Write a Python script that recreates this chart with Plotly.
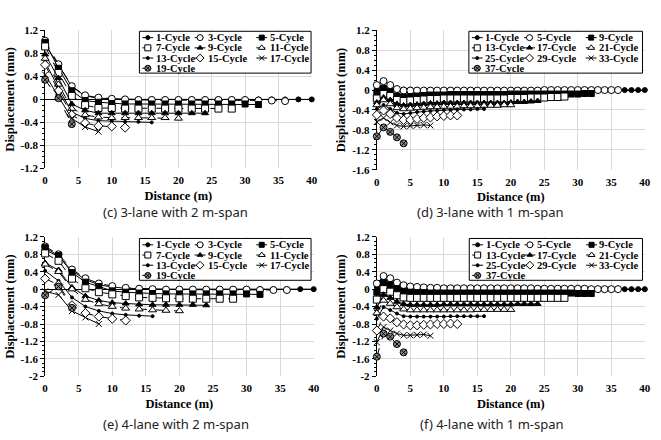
import plotly.graph_objects as go

# ---------------- data ----------------
distance_2m = [0, 2, 4, 6, 8, 10, 12, 14, 16, 18, 20, 22, 24, 26, 28, 30, 32, 34, 36, 38, 40]
distance_1m = [0, 1, 2, 3, 4, 5, 6, 7, 8, 9, 10, 11, 12, 13, 14, 15, 16, 17, 18, 19, 20,
               21, 22, 23, 24, 25, 26, 27, 28, 29, 30, 31, 32, 33, 34, 35, 36, 37, 38, 39, 40]
distance_ticks = [0, 5, 10, 15, 20, 25, 30, 35, 40]

cycles_2m = ["1-Cycle", "3-Cycle", "5-Cycle", "7-Cycle", "9-Cycle",
             "11-Cycle", "13-Cycle", "15-Cycle", "17-Cycle", "19-Cycle"]
cycles_1m = ["1-Cycle", "5-Cycle", "9-Cycle", "13-Cycle", "17-Cycle",
             "21-Cycle", "25-Cycle", "29-Cycle", "33-Cycle", "37-Cycle"]

yticks_12 = [-1.2, -0.8, -0.4, 0, 0.4, 0.8, 1.2]
ylabels_12 = ["-1.2", "-0.8", "-0.4", "0", "0.4", "0.8", "1.2"]
yticks_16 = [-1.6, -1.2, -0.8, -0.4, 0, 0.4, 0.8, 1.2]
ylabels_16 = ["-1.6", "-1.2", "-0.8", "-0.4", "0", "0.4", "0.8", "1.2"]
yticks_20 = [-2, -1.6, -1.2, -0.8, -0.4, 0, 0.4, 0.8, 1.2]
ylabels_20 = ["-2", "-1.6", "-1.2", "-0.8", "-0.4", "0", "0.4", "0.8", "1.2"]

# (c) 3-lane with 2 m-span
c_1 = [0.95, 0.60, 0.22, 0.06, 0.02, 0.01, 0.00, 0.00, 0.00, 0.00, 0.00, 0.00, 0.00, 0.00,
       0.00, 0.00, 0.00, 0.00, 0.00, 0.00, 0.00]
c_3 = [1.02, 0.61, 0.23, 0.07, 0.03, 0.01, 0.00, -0.01, -0.01, -0.01, -0.01, -0.01, -0.01,
       -0.01, -0.01, -0.01, -0.02, -0.02, -0.03]
c_5 = [0.99, 0.54, 0.15, -0.02, -0.05, -0.07, -0.08, -0.08, -0.08, -0.08, -0.08, -0.08,
       -0.08, -0.08, -0.08, -0.08, -0.09]
c_7 = [0.92, 0.46, 0.06, -0.10, -0.15, -0.15, -0.16, -0.16, -0.16, -0.16, -0.16, -0.16,
       -0.16, -0.16, -0.16]
c_9 = [0.78, 0.37, -0.08, -0.19, -0.24, -0.24, -0.24, -0.24, -0.24, -0.24, -0.24, -0.24, -0.24]
c_11 = [0.71, 0.26, -0.16, -0.27, -0.31, -0.32, -0.32, -0.32, -0.32, -0.32, -0.33]
c_13 = [0.65, 0.20, -0.22, -0.33, -0.37, -0.38, -0.39, -0.39, -0.40]
c_15 = [0.60, 0.15, -0.27, -0.41, -0.46, -0.47, -0.49]
c_17 = [0.43, 0.05, -0.33, -0.48, -0.56]
c_19 = [0.34, 0.02, -0.43]

# (d) 3-lane with 1 m-span
d_1 = [0.04, 0.05, 0.03, 0.02, 0.01, 0.01, 0.00, 0.00, 0.00, 0.00,
       0.00, 0.00, 0.00, 0.00, 0.00, 0.00, 0.00, 0.00, 0.00, 0.00,
       0.00, 0.00, 0.00, 0.00, 0.00, 0.00, 0.00, 0.00, 0.00, 0.00,
       0.00, 0.00, 0.00, 0.00, 0.00, 0.00, 0.00, 0.00, 0.00, 0.00, 0.00]
d_5 = [0.10, 0.18, 0.10, 0.02, -0.01, -0.01, -0.01, -0.01, -0.01, -0.01,
       -0.01, -0.01, -0.01, -0.01, -0.01, -0.01, -0.01, -0.01, -0.01, -0.01,
       -0.01, -0.01, -0.01, -0.01, -0.01, 0.00, 0.00, 0.00, 0.00, 0.00,
       0.00, 0.00, 0.00, 0.00, 0.00, 0.00, 0.00]
d_9 = [-0.05, 0.03, -0.04, -0.12, -0.14, -0.13, -0.12, -0.11, -0.10, -0.10,
       -0.10, -0.09, -0.09, -0.09, -0.09, -0.09, -0.09, -0.09, -0.09, -0.09,
       -0.08, -0.08, -0.08, -0.08, -0.08, -0.08, -0.08, -0.08, -0.08, -0.08,
       -0.08, -0.07, -0.07]
d_13 = [-0.17, -0.08, -0.12, -0.20, -0.22, -0.21, -0.20, -0.19, -0.18, -0.18,
        -0.17, -0.17, -0.17, -0.17, -0.17, -0.17, -0.17, -0.17, -0.17, -0.17,
        -0.16, -0.16, -0.16, -0.15, -0.15, -0.15, -0.14, -0.14, -0.13]
d_17 = [-0.25, -0.15, -0.20, -0.28, -0.31, -0.30, -0.29, -0.28, -0.27, -0.27,
        -0.26, -0.26, -0.26, -0.26, -0.26, -0.26, -0.26, -0.26, -0.26, -0.26,
        -0.25, -0.24, -0.24, -0.23, -0.22]
d_21 = [-0.30, -0.20, -0.28, -0.36, -0.38, -0.37, -0.36, -0.35, -0.34, -0.34,
        -0.33, -0.33, -0.33, -0.32, -0.32, -0.32, -0.31, -0.31, -0.31, -0.30, -0.30]
d_25 = [-0.38, -0.30, -0.38, -0.46, -0.48, -0.46, -0.44, -0.43, -0.42, -0.41,
        -0.40, -0.40, -0.39, -0.39, -0.39, -0.38, -0.38]
d_29 = [-0.50, -0.41, -0.48, -0.56, -0.60, -0.60, -0.58, -0.56, -0.55, -0.53, -0.52, -0.51, -0.51]
d_33 = [-0.64, -0.56, -0.65, -0.71, -0.73, -0.72, -0.71, -0.70, -0.71]
d_37 = [-0.93, -0.75, -0.84, -0.95, -1.07]

# (e) 4-lane with 2 m-span
e_1 = [0.90, 0.75, 0.42, 0.22, 0.10, 0.05, 0.02, 0.01, 0.00, 0.00, 0.00, 0.00, 0.00, 0.00,
       0.00, 0.00, 0.00, 0.00, 0.00, 0.00, 0.00]
e_3 = [0.98, 0.80, 0.45, 0.25, 0.13, 0.07, 0.03, 0.01, 0.00, -0.01, -0.01, -0.01, -0.01,
       -0.01, -0.01, -0.01, -0.02, -0.02, -0.02]
e_5 = [0.95, 0.77, 0.38, 0.16, 0.06, -0.04, -0.07, -0.09, -0.10, -0.11, -0.11, -0.11,
       -0.11, -0.11, -0.11, -0.11, -0.12]
e_7 = [0.82, 0.65, 0.24, 0.02, -0.07, -0.12, -0.16, -0.19, -0.20, -0.21, -0.21, -0.22,
       -0.22, -0.22, -0.22]
e_9 = [0.60, 0.44, 0.04, -0.16, -0.26, -0.31, -0.33, -0.35, -0.36, -0.36, -0.36, -0.36, -0.37]
e_11 = [0.57, 0.40, 0.00, -0.24, -0.34, -0.40, -0.44, -0.46, -0.48, -0.49, -0.50]
e_13 = [0.42, 0.19, -0.19, -0.40, -0.50, -0.56, -0.59, -0.61, -0.62]
e_15 = [0.24, 0.10, -0.37, -0.55, -0.63, -0.68, -0.72]
e_17 = [-0.05, -0.13, -0.50, -0.65, -0.80]
e_19 = [-0.14, 0.06, -0.43]

# (f) 4-lane with 1 m-span
f_1 = [0.05, 0.12, 0.08, 0.04, 0.02, 0.01, 0.00, 0.00, 0.00, 0.00,
       0.00, 0.00, 0.00, 0.00, 0.00, 0.00, 0.00, 0.00, 0.00, 0.00,
       0.00, 0.00, 0.00, 0.00, 0.00, 0.00, 0.00, 0.00, 0.00, 0.00,
       0.00, 0.00, 0.00, 0.00, 0.00, 0.00, 0.00, 0.00, 0.00, 0.00, 0.00]
f_5 = [0.13, 0.30, 0.25, 0.15, 0.09, 0.06, 0.05, 0.04, 0.03, 0.03,
       0.02, 0.02, 0.02, 0.02, 0.02, 0.02, 0.02, 0.02, 0.02, 0.02,
       0.02, 0.02, 0.02, 0.02, 0.01, 0.01, 0.01, 0.01, 0.01, 0.01,
       0.01, 0.01, 0.00, 0.00, 0.00, 0.00, 0.00]
f_9 = [-0.07, 0.15, 0.10, 0.01, -0.05, -0.07, -0.08, -0.08, -0.09, -0.09,
       -0.09, -0.09, -0.09, -0.09, -0.09, -0.09, -0.09, -0.09, -0.09, -0.09,
       -0.09, -0.09, -0.09, -0.09, -0.09, -0.09, -0.09, -0.09, -0.09, -0.09,
       -0.10, -0.10, -0.10]
f_13 = [-0.24, 0.00, -0.06, -0.14, -0.19, -0.20, -0.20, -0.20, -0.20, -0.20,
        -0.20, -0.20, -0.20, -0.20, -0.20, -0.20, -0.20, -0.20, -0.20, -0.20,
        -0.20, -0.20, -0.20, -0.20, -0.20, -0.20, -0.20, -0.20, -0.20]
f_17 = [-0.42, -0.13, -0.20, -0.29, -0.34, -0.36, -0.36, -0.36, -0.36, -0.36,
        -0.35, -0.35, -0.35, -0.35, -0.35, -0.35, -0.35, -0.35, -0.35, -0.35,
        -0.35, -0.34, -0.34, -0.34, -0.34]
f_21 = [-0.55, -0.26, -0.33, -0.41, -0.46, -0.48, -0.48, -0.48, -0.48, -0.48,
        -0.48, -0.48, -0.48, -0.48, -0.48, -0.47, -0.47, -0.47, -0.47, -0.47, -0.47]
f_25 = [-0.68, -0.41, -0.48, -0.56, -0.62, -0.63, -0.63, -0.63, -0.63, -0.63,
        -0.63, -0.62, -0.62, -0.62, -0.62, -0.62, -0.62]
f_29 = [-0.95, -0.63, -0.67, -0.76, -0.81, -0.83, -0.83, -0.82, -0.81, -0.80, -0.80, -0.79, -0.80]
f_33 = [-1.22, -0.87, -0.95, -1.02, -1.06, -1.06, -1.05, -1.04, -1.07]
f_37 = [-1.55, -1.02, -1.09, -1.26, -1.45]

# ---------------- styling ----------------
W, H = 661, 440
SERIF = "Liberation Serif, Times New Roman, DejaVu Serif, serif"
GRID = "#d9d9d9"

styles = [
    dict(symbol="circle", color="black", size=5, dash="solid"),
    dict(symbol="circle", color="white", size=7, dash="dash"),
    dict(symbol="square", color="black", size=6, dash="solid"),
    dict(symbol="square", color="white", size=7, dash="dash"),
    dict(symbol="triangle-up", color="black", size=6, dash="solid"),
    dict(symbol="triangle-up", color="white", size=7, dash="dash"),
    dict(symbol="circle", color="black", size=3, dash="solid"),
    dict(symbol="diamond", color="white", size=7, dash="dash"),
    dict(symbol="x-thin", color="black", size=6, dash="solid"),
    dict(symbol="circle-x", color="#8a8a8a", size=7, dash="dash"),
]

panels = [
    dict(xs=distance_2m, names=cycles_2m,
         series=[c_1, c_3, c_5, c_7, c_9, c_11, c_13, c_15, c_17, c_19],
         yr=[-1.2, 1.2], tv=yticks_12, tt=ylabels_12,
         px=(42.7, 313.0), py=(25.0, 167.0), box=(138.3, 26, 312.3, 69),
         cap="(c) 3-lane with 2 m-span", capxy=(175, 212)),
    dict(xs=distance_1m, names=cycles_1m,
         series=[d_1, d_5, d_9, d_13, d_17, d_21, d_25, d_29, d_33, d_37],
         yr=[-1.6, 1.2], tv=yticks_16, tt=ylabels_16,
         px=(379.0, 650.7), py=(25.0, 168.3), box=(472.3, 26, 648.3, 69),
         cap="(d) 3-lane with 1 m-span", capxy=(494, 212)),
    dict(xs=distance_2m, names=cycles_2m,
         series=[e_1, e_3, e_5, e_7, e_9, e_11, e_13, e_15, e_17, e_19],
         yr=[-2, 1.2], tv=yticks_20, tt=ylabels_20,
         px=(42.7, 315.0), py=(237.3, 380.7), box=(138.3, 239, 312.3, 282),
         cap="(e) 4-lane with 2 m-span", capxy=(175, 430)),
    dict(xs=distance_1m, names=cycles_1m,
         series=[f_1, f_5, f_9, f_13, f_17, f_21, f_25, f_29, f_33, f_37],
         yr=[-2, 1.2], tv=yticks_20, tt=ylabels_20,
         px=(379.0, 650.7), py=(237.3, 380.7), box=(472.7, 239, 648.3, 282),
         cap="(f) 4-lane with 1 m-span", capxy=(496, 430)),
]

fig = go.Figure()
layout = dict(width=W, height=H, margin=dict(l=0, r=0, t=0, b=0),
              paper_bgcolor="white", plot_bgcolor="rgba(0,0,0,0)",
              showlegend=False, annotations=[])

tick_font = dict(family=SERIF, size=11, color="black", weight="bold")
title_font = dict(family=SERIF, size=12.5, color="black", weight="bold")

for i, p in enumerate(panels):
    n = "" if i == 0 else str(i + 1)
    xa, ya = "x" + n, "y" + n
    layout["xaxis" + n] = dict(
        domain=[p["px"][0] / W, p["px"][1] / W], anchor=ya, range=[0, 40],
        tickmode="array", tickvals=distance_ticks, showgrid=True, gridcolor=GRID,
        gridwidth=1, zeroline=False, showline=False, ticks="", tickfont=tick_font,
        ticklabelstandoff=4,
        title=dict(text="Distance (m)", font=title_font, standoff=5), layer="below traces")
    layout["yaxis" + n] = dict(
        domain=[1 - p["py"][1] / H, 1 - p["py"][0] / H], anchor=xa, range=p["yr"],
        tickmode="array", tickvals=p["tv"], ticktext=p["tt"], showgrid=True,
        gridcolor=GRID, gridwidth=1, showline=True, linecolor="black", linewidth=1,
        ticks="outside", ticklen=4, tickcolor="black", tickfont=tick_font,
        minor=dict(tickmode="linear", tick0=0, dtick=0.1, ticks="outside", ticklen=2,
                   tickcolor="black", showgrid=False),
        zeroline=True, zerolinecolor="black", zerolinewidth=1,
        title=dict(text="Displacement (mm)", font=title_font, standoff=3),
        layer="below traces")
    for k, vals in enumerate(p["series"]):
        st = styles[k]
        fig.add_trace(go.Scatter(
            x=p["xs"][:len(vals)], y=vals, xaxis=xa, yaxis=ya, mode="lines+markers",
            name=p["names"][k], cliponaxis=False,
            line=dict(color="black", width=1, dash=st["dash"]),
            marker=dict(symbol=st["symbol"], size=st["size"], color=st["color"],
                        line=dict(color="black", width=1))))
    layout["annotations"].append(dict(
        text=p["cap"], xref="paper", yref="paper", x=p["capxy"][0] / W,
        y=1 - p["capxy"][1] / H, xanchor="center", yanchor="middle", showarrow=False,
        font=dict(family="Noto Sans", size=13, color="#222")))

# ---- legends drawn on an invisible full-figure pixel axis ----
layout["xaxis5"] = dict(domain=[0, 1], range=[0, W], visible=False, anchor="y5",
                        fixedrange=True)
layout["yaxis5"] = dict(domain=[0, 1], range=[H, 0], visible=False, anchor="x5",
                        fixedrange=True)
col_sym = [8.5, 61.5, 124.0]
col_txt = [14.5, 67.0, 130.0]
row_off = [6.5, 17.0, 27.5, 38.0]
for p in panels:
    l, t, r, b = p["box"]
    fig.add_trace(go.Scatter(x=[l, r, r, l, l], y=[t, t, b, b, t], xaxis="x5", yaxis="y5",
                             mode="lines", fill="toself", fillcolor="white",
                             line=dict(color="black", width=1), hoverinfo="skip"))
    for k, name in enumerate(p["names"]):
        st = styles[k]
        row, col = divmod(k, 3)
        cx = l + col_sym[col]
        cy = t + row_off[row]
        fig.add_trace(go.Scatter(x=[cx - 5.5, cx + 5.5], y=[cy, cy], xaxis="x5", yaxis="y5",
                                 mode="lines", line=dict(color="black", width=1, dash=st["dash"]),
                                 hoverinfo="skip", cliponaxis=False))
        fig.add_trace(go.Scatter(x=[cx], y=[cy], xaxis="x5", yaxis="y5", mode="markers",
                                 marker=dict(symbol=st["symbol"], size=max(st["size"] - 1, 3),
                                             color=st["color"],
                                             line=dict(color="black", width=1)),
                                 hoverinfo="skip", cliponaxis=False))
        layout["annotations"].append(dict(
            text=name, xref="x5", yref="y5", x=l + col_txt[col], y=cy, xanchor="left",
            yanchor="middle", showarrow=False,
            font=dict(family=SERIF, size=10.5, color="black", weight="bold")))

fig.update_layout(**layout)
fig.write_html("out.html")
